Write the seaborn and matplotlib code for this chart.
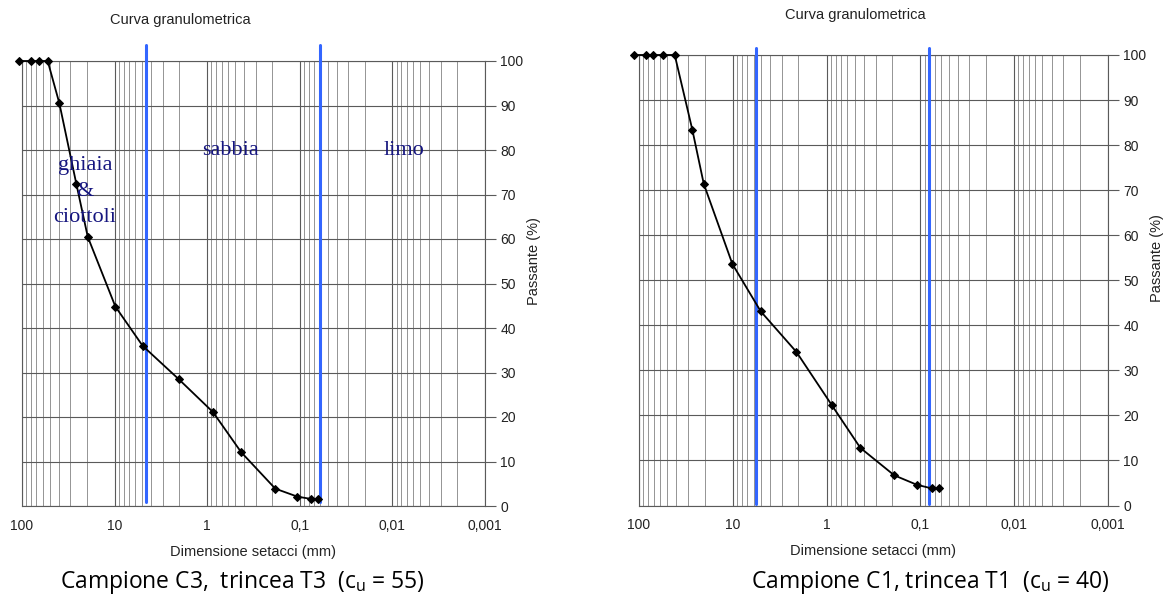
import numpy as np
import matplotlib
matplotlib.use('Agg')
import matplotlib.pyplot as plt
import seaborn as sns
from matplotlib.ticker import FixedLocator, NullFormatter, LogLocator

# Campione C3, trincea T3 (grafico a sinistra)
diam_c3 = [107, 80, 66, 52.8, 39.5, 25.9, 19.5, 9.8, 4.98, 2.03, 0.866, 0.43, 0.184, 0.106, 0.076, 0.063]
pass_c3 = [100, 100, 100, 100, 90.5, 72.4, 60.5, 44.8, 36.0, 28.5, 21.1, 12.1, 3.9, 2.1, 1.6, 1.6]
limiti_c3 = [4.6, 0.061]

# Campione C1, trincea T1 (grafico a destra)
diam_c1 = [112, 84, 70.4, 55.5, 41.6, 27, 20.4, 10.1, 5.04, 2.1, 0.875, 0.437, 0.19, 0.109, 0.0758, 0.0638]
pass_c1 = [100, 100, 100, 100, 100, 83.4, 71.4, 53.6, 43.1, 34.1, 22.2, 12.8, 6.7, 4.6, 3.8, 3.8]
limiti_c1 = [5.7, 0.080]

x_ticks = [100, 10, 1, 0.1, 0.01, 0.001]
x_labels = ["100", "10", "1", "0,1", "0,01", "0,001"]
y_ticks = list(range(0, 101, 10))

W, H = 1167, 604
fig = plt.figure(figsize=(W / 100, H / 100), dpi=100)
sns.set_style("white")
plt.rcParams['font.family'] = ['Liberation Sans', 'DejaVu Sans']

GRID = '#5a5a5a'
BLUE = '#3366ff'


def make_axes(px_left, px_right, px_top, px_bottom):
    return fig.add_axes([px_left / W, (H - px_bottom) / H,
                         (px_right - px_left) / W, (px_bottom - px_top) / H])


def draw_curve(ax, diam, passante, limiti, lim_extent):
    ax.set_xscale('log')
    sns.lineplot(x=diam, y=passante, ax=ax, color='black', linewidth=1.3,
                 marker='D', markersize=4.3, markeredgecolor='black',
                 estimator=None, sort=False, clip_on=False, zorder=5)
    for xv in limiti:
        ax.plot([xv, xv], lim_extent, color=BLUE, linewidth=2.2, zorder=4, clip_on=False)

    ax.set_xlim(100, 0.001)
    ax.set_ylim(0, 100)

    ax.xaxis.set_major_locator(FixedLocator(x_ticks))
    ax.set_xticklabels(x_labels)
    ax.xaxis.set_minor_locator(LogLocator(base=10, subs=np.arange(2, 10)))
    ax.xaxis.set_minor_formatter(NullFormatter())
    ax.grid(True, which='major', axis='both', color=GRID, linewidth=0.8)
    ax.grid(True, which='minor', axis='x', color=GRID, linewidth=0.6, alpha=0.75)

    ax.yaxis.tick_right()
    ax.yaxis.set_label_position('right')
    ax.set_yticks(y_ticks)
    ax.tick_params(axis='y', which='major', direction='out', length=8, width=0.8,
                   color=GRID, labelsize=10, pad=3, labelcolor='#222222')
    ax.tick_params(axis='x', which='major', direction='out', length=3, width=0.8,
                   color=GRID, labelsize=10, pad=6, labelcolor='#222222')
    ax.tick_params(axis='x', which='minor', length=0)
    for s in ax.spines.values():
        s.set_color(GRID)
        s.set_linewidth(0.8)
    ax.set_xlabel("Dimensione setacci (mm)", fontsize=10.5, labelpad=9, color='#222222')
    ax.set_ylabel("Passante (%)", fontsize=10.5, color='#222222', labelpad=8)
    ax.yaxis.set_label_coords(1.09, 0.55)


ax1 = make_axes(22, 485, 61, 506)
draw_curve(ax1, diam_c3, pass_c3, limiti_c3, [1, 103.5])

ax2 = make_axes(639, 1108, 55, 505.5)
draw_curve(ax2, diam_c1, pass_c1, limiti_c1, [0.3, 101.5])

# etichette delle classi granulometriche
navy = '#15157f'
ax1.text(20.9, 70.6, "ghiaia\n&\nciottoli", ha='center', va='center', fontsize=16,
         family='Liberation Serif', color=navy, linespacing=1.5, zorder=6)
ax1.text(0.567, 79.8, "sabbia", ha='center', va='center', fontsize=16,
         family='Liberation Serif', color=navy)
ax1.text(0.0075, 79.8, "limo", ha='center', va='center', fontsize=16,
         family='Liberation Serif', color=navy)

fig.text(180 / W, 1 - 20 / H, "Curva granulometrica", ha='center', va='center',
         fontsize=10.5, color='#222222')
fig.text(855 / W, 1 - 15 / H, "Curva granulometrica", ha='center', va='center',
         fontsize=10.5, color='#222222')

fig.text(242 / W, 1 - 582 / H, r"Campione C3,  trincea T3  (c$_\mathregular{u}$ = 55)",
         ha='center', va='center', fontsize=16.5, family='Open Sans', color='black')
fig.text(930 / W, 1 - 582 / H, r"Campione C1, trincea T1  (c$_\mathregular{u}$ = 40)",
         ha='center', va='center', fontsize=16.5, family='Open Sans', color='black')

fig.savefig("out.png", dpi=100)
